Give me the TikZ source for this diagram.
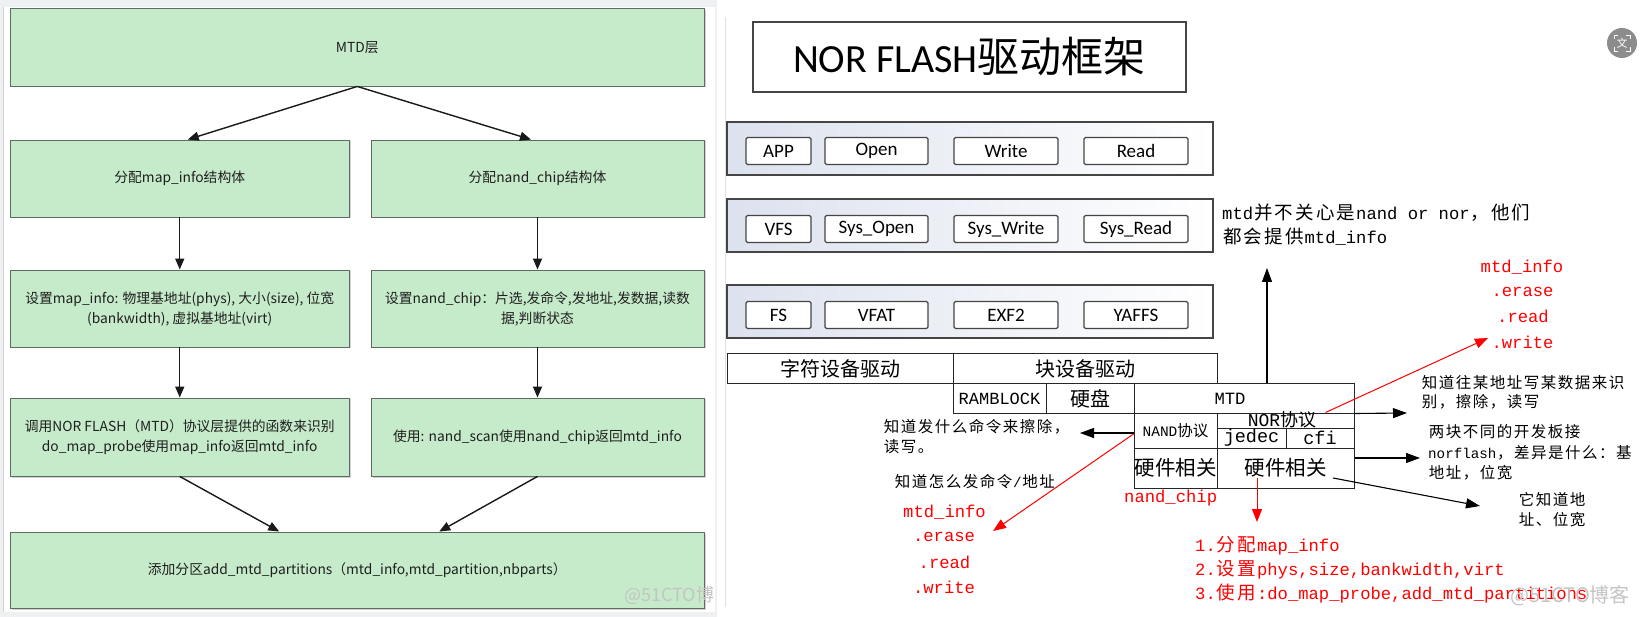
\documentclass[tikz,border=0pt]{standalone}
\usepackage{fontspec}
\usetikzlibrary{arrows.meta,shadows}
\newfontfamily\cjk{Noto Sans CJK SC}
\newfontfamily\mono{Liberation Mono}
\newfontfamily\cali{Carlito}
\definecolor{lgreen}{HTML}{C6EBCB}
\definecolor{gborder}{HTML}{5E6B60}
\definecolor{rowblue}{HTML}{DCE2EE}
\definecolor{wmgray}{HTML}{C4C4C4}
\definecolor{bline}{HTML}{454545}
\definecolor{pbg}{HTML}{EEF0F2}
\newlength\zwid
\makeatletter
\def\zw@loop#1{\ifx#1\relax\else\makebox[\zwid]{#1}\expandafter\zw@loop\fi}
\newcommand\zS[1]{{\cjk\fontsize{15.5}{19}\selectfont\setlength\zwid{17pt}\zw@loop#1\relax}}
\newcommand\zL[1]{{\cjk\fontsize{18.5}{22}\selectfont\setlength\zwid{20.6pt}\zw@loop#1\relax}}
\makeatother
\newcommand\mS[1]{{\mono\fontsize{14.2}{19}\selectfont #1}}
\newcommand\mL[1]{{\mono\fontsize{17.2}{22}\selectfont #1}}
\tikzset{
  gbox/.style={draw=gborder, fill=lgreen, line width=0.9pt, align=center, text=black!88,
    font=\cjk\fontsize{13.8}{20}\selectfont, inner sep=2pt,
    drop shadow={shadow xshift=1.5pt,shadow yshift=-1.5pt,opacity=0.35}},
  larr/.style={line width=1.4pt, draw=black!90, -{Triangle[length=11pt,width=9pt]}},
  rowbox/.style={draw=bline, line width=1.1pt, left color=rowblue, right color=white,
    minimum width=486pt, minimum height=53pt, inner sep=0pt},
  ibox/.style={draw=bline, line width=1.1pt, fill=white, rounded corners=1.5pt,
    minimum height=27pt, inner sep=0pt, font=\cali\fontsize{19}{22}\selectfont},
  cell/.style={draw=black!85, line width=1pt, inner sep=0pt},
  txt/.style={inner sep=0pt, anchor=west},
  ctxt/.style={inner sep=0pt, anchor=center},
  barr/.style={line width=1.1pt, draw=black, -{Triangle[length=14pt,width=10pt]}},
  rarr/.style={line width=1pt, draw=red, -{Triangle[length=13pt,width=10pt]}},
}
\begin{document}
\begin{tikzpicture}[x=1pt,y=-1pt]
\useasboundingbox (0,0) rectangle (1641,617);
\fill[white] (0,0) rectangle (1641,617);
% left panel background
\fill[pbg] (0,0) rectangle (717,617);
\fill[white] (3,7) rectangle (715,612);
\draw[black!18, line width=0.8pt] (3,7) -- (3,612);
\draw[black!12, line width=0.8pt] (725,17) -- (725,607);

% ---------- left flow chart ----------
\node[gbox, minimum width=693.5pt, minimum height=77.5pt] (b1) at (357.25,47.25) {MTD层};
\node[gbox, minimum width=338.5pt, minimum height=77pt] (b2l) at (179.75,178.5) {分配map\_info结构体};
\node[gbox, minimum width=333pt, minimum height=77pt] (b2r) at (537.5,178.5) {分配nand\_chip结构体};
\node[gbox, minimum width=338.5pt, minimum height=77pt] (b3l) at (179.75,308.5) {设置map\_info: 物理基地址(phys), 大小(size), 位宽\\(bankwidth), 虚拟基地址(virt)};
\node[gbox, minimum width=333pt, minimum height=77pt] (b3r) at (537.5,308.5) {设置nand\_chip：片选,发命令,发地址,发数据,读数\\据,判断状态};
\node[gbox, minimum width=338.5pt, minimum height=78pt] (b4l) at (179.75,437) {调用NOR FLASH（MTD）协议层提供的函数来识别\\do\_map\_probe使用map\_info返回mtd\_info};
\node[gbox, minimum width=333pt, minimum height=78pt] (b4r) at (537.5,437) {使用: nand\_scan使用nand\_chip返回mtd\_info};
\node[gbox, minimum width=693.5pt, minimum height=76pt] (b5) at (357.25,570) {添加分区add\_mtd\_partitions（mtd\_info,mtd\_partition,nbparts）};

\draw[larr] (b1.south) -- ([xshift=8pt]b2l.north);
\draw[larr] (b1.south) -- ([xshift=-6.5pt]b2r.north);
\draw[larr] (b2l.south) -- (b3l.north);
\draw[larr] (b2r.south) -- (b3r.north);
\draw[larr] (b3l.south) -- (b4l.north);
\draw[larr] (b3r.south) -- (b4r.north);
\draw[larr] (b4l.south) -- ([xshift=-78pt]b5.north);
\draw[larr] (b4r.south) -- ([xshift=82pt]b5.north);

\begin{scope}
\clip (0,0) rectangle (713,617);
\node[txt, text=wmgray, font=\cjk\fontsize{18}{20}\selectfont] (wm2) at (624,595) {@51CTO博客};
\end{scope}

% ---------- right: NOR flash framework ----------
\node[draw=bline, line width=1.2pt, minimum width=433pt, minimum height=70pt, fill=white, inner sep=0pt] (title) at (969.5,57)
  {{\cali\fontsize{40}{44}\selectfont NOR FLASH}{\cjk\fontsize{42}{44}\selectfont 驱动框架}};

\node[rowbox] (r1) at (970,148.5) {};
\node[ibox, minimum width=65pt]  (app)   at (778.5,151) {APP};
\node[ibox, minimum width=103pt] (open)  at (876.5,151) {Open};
\node[ibox, minimum width=104pt] (write) at (1006,151) {Write};
\node[ibox, minimum width=104pt] (read)  at (1136,151) {Read};

\node[rowbox] (r2) at (970,225.5) {};
\node[ibox, minimum width=65pt]  (vfs)    at (778.5,229) {VFS};
\node[ibox, minimum width=103pt] (sopen)  at (876.5,229) {Sys\_Open};
\node[ibox, minimum width=104pt] (swrite) at (1006,229) {Sys\_Write};
\node[ibox, minimum width=104pt] (sread)  at (1136,229) {Sys\_Read};

\node[rowbox] (r3) at (970,311.5) {};
\node[ibox, minimum width=65pt]  (fs)    at (778.5,315) {FS};
\node[ibox, minimum width=103pt] (vfat)  at (876.5,315) {VFAT};
\node[ibox, minimum width=104pt] (exf2)  at (1006,315) {EXF2};
\node[ibox, minimum width=104pt] (yaffs) at (1136,315) {YAFFS};

% table
\node[cell, minimum width=226pt, minimum height=30pt, font=\cjk\fontsize{20}{22}\selectfont] (t1) at (840,369) {字符设备驱动};
\node[cell, minimum width=264pt, minimum height=30pt, font=\cjk\fontsize{20}{22}\selectfont] (t2) at (1085,369) {块设备驱动};
\node[cell, minimum width=93pt, minimum height=29pt, font=\mono\fontsize{17}{20}\selectfont] (t3) at (999.5,398.5) {RAMBLOCK};
\node[cell, minimum width=88pt, minimum height=29pt, font=\cjk\fontsize{20}{22}\selectfont] (t4) at (1090,398.5) {硬盘};
\node[cell, minimum width=220pt, minimum height=29pt] (t5) at (1244,398.5) {};
\node[ctxt, font=\mono\fontsize{17.2}{20}\selectfont] (t5t) at (1230,399) {MTD};
\node[cell, minimum width=83pt, minimum height=35pt] (t6) at (1175.5,430.5)
  {{\mono\fontsize{14.5}{16}\selectfont NAND}{\cjk\fontsize{15.5}{16}\selectfont 协议}};
\node[cell, minimum width=137pt, minimum height=15pt] (t7) at (1285.5,420.5) {};
\node[ctxt] (t7t) at (1282,420) {{\mono\fontsize{18}{20}\selectfont NOR}{\cjk\fontsize{18}{20}\selectfont 协议}};
\node[cell, minimum width=69pt, minimum height=20pt, font=\mono\fontsize{18.5}{20}\selectfont] (t8) at (1251.5,438) {jedec};
\node[cell, minimum width=68pt, minimum height=20pt, font=\mono\fontsize{18.5}{20}\selectfont] (t9) at (1320,438) {cfi};
\node[cell, minimum width=83pt, minimum height=40pt, font=\cjk\fontsize{20.5}{22}\selectfont] (t10) at (1175.5,468) {硬件相关};
\node[cell, minimum width=137pt, minimum height=40pt, font=\cjk\fontsize{20.5}{22}\selectfont] (t11) at (1285.5,468) {硬件相关};

% black notes
\node[txt] (n1a) at (1222,213) {\mL{mtd}\zL{并不关心是}\mL{nand or nor}\zL{，他们}};
\node[txt] (n1b) at (1222,237) {\zL{都会提供}\mL{mtd\_info}};
\node[txt] (n2a) at (1421,383) {\zS{知道往某地址写某数据来识}};
\node[txt] (n2b) at (1421,402) {\zS{别，擦除，读写}};
\node[txt] (n3a) at (1428,432) {\zS{两块不同的开发板接}};
\node[txt] (n3b) at (1428,453) {\mS{norflash}\zS{，差异是什么：基}};
\node[txt] (n3c) at (1428,473) {\zS{地址，位宽}};
\node[txt] (n4a) at (1518,500) {\zS{它知道地}};
\node[txt] (n4b) at (1518,520) {\zS{址、位宽}};
\node[txt] (n5a) at (883,427) {\zS{知道发什么命令来擦除，}};
\node[txt] (n5b) at (883,447) {\zS{读写。}};
\node[txt] (n6) at (894,482) {\zS{知道怎么发命令}\mS{/}\zS{地址}};

% red notes
\begin{scope}[every node/.append style={text=red}]
\node[ctxt] (m1) at (1522,267) {\mL{mtd\_info}};
\node[ctxt] (m2) at (1522.5,292) {\mL{.erase}};
\node[ctxt] (m3) at (1523,316) {\mL{.read}};
\node[ctxt] (m4) at (1522.5,342) {\mL{.write}};
\node[ctxt] (k1) at (944.5,512) {\mL{mtd\_info}};
\node[ctxt] (k2) at (944,537) {\mL{.erase}};
\node[ctxt] (k3) at (944.5,562) {\mL{.read}};
\node[ctxt] (k4) at (944,587) {\mL{.write}};
\node[txt] (nc) at (1124,498) {\mL{nand\_chip}};
\node[txt] (s1) at (1195,546) {\mL{1.}\zL{分配}\mL{map\_info}};
\node[txt] (s2) at (1195,570) {\mL{2.}\zL{设置}\mL{phys,size,bankwidth,virt}};
\node[txt] (s3) at (1195,593) {\mL{3.}\zL{使用}\mL{:do\_map\_probe,add\_mtd\_partitions}};
\end{scope}

% free arrow ends
\coordinate (a1e) at (1267,268);
\coordinate (a2e) at (1407,413);
\coordinate (a3e) at (1420,458);
\coordinate (a4e) at (1480,506);
\coordinate (a5e) at (1080,433);
\coordinate (r1e) at (1488,338);
\coordinate (r2e) at (1257,522);
\coordinate (r3e) at (993,531);

\draw[barr] ([xshift=23pt]t5.north) -- (a1e);
\draw[barr] (t5.south east) -- (a2e);
\draw[barr] ([yshift=10pt]t11.east) -- (a3e);
\draw[barr] ([xshift=47.5pt,yshift=-10pt]t11.center) -- (a4e);
\draw[barr] ([yshift=-2.5pt]t6.west) -- (a5e);
\draw[rarr] ([xshift=40pt]t7.north) -- (r1e);
\draw[rarr] ([xshift=-28.5pt,yshift=-10pt]t11.center) -- (r2e);
\draw[rarr] ([yshift=-3.5pt]t6.west) -- (r3e);

% watermark and icon
\node[ctxt, text=wmgray, font=\cjk\fontsize{20}{22}\selectfont] (wm1) at (1570,596) {@51CTO博客};
\node[circle, fill=black!45, minimum size=30pt, inner sep=0pt, text=white, font=\cjk\fontsize{11}{12}\selectfont] (icon) at (1622,43) {文};
\draw[white, line width=0.8pt] (1614,39) -- (1614,35) -- (1618,35)
  (1626,35) -- (1630,35) -- (1630,39) (1630,47) -- (1630,51) -- (1626,51) (1618,51) -- (1614,51) -- (1614,47);
\end{tikzpicture}
\end{document}
